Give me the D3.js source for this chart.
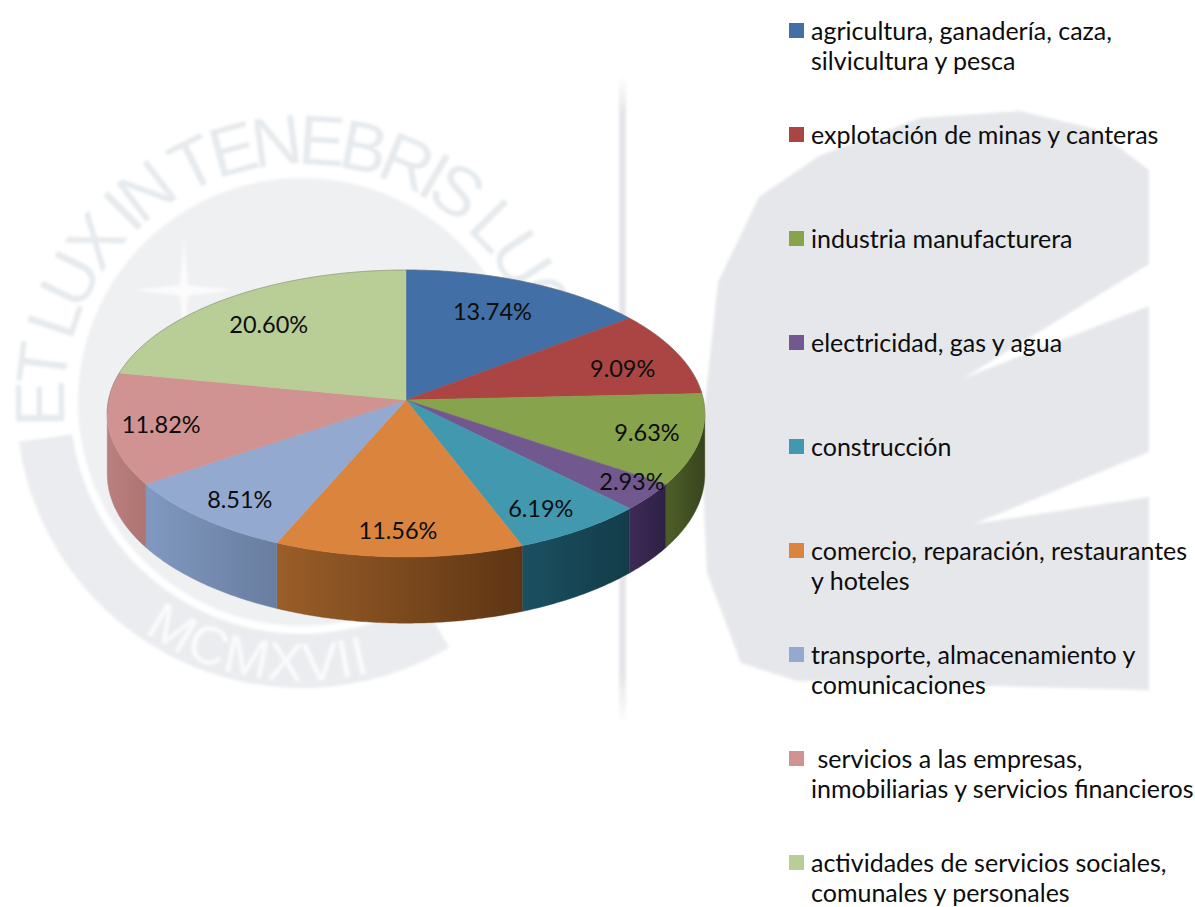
<!DOCTYPE html>
<html>
<head>
<meta charset="utf-8">
<script src="https://cdnjs.cloudflare.com/ajax/libs/d3/7.8.5/d3.min.js"></script>
<style>
html,body{margin:0;padding:0;background:#fff;overflow:hidden}
svg{display:block}
text{font-family:Lato,"Noto Sans",sans-serif;fill:#0d0d0d}
.legend text{white-space:pre}
</style>
</head>
<body>
<svg id="chart" width="1195" height="907"></svg>
<script>
// ---- data ----
const categories = [
  "agricultura, ganadería, caza,\nsilvicultura y pesca",
  "explotación de minas y canteras",
  "industria manufacturera",
  "electricidad, gas y agua",
  "construcción",
  "comercio, reparación, restaurantes\ny hoteles",
  "transporte, almacenamiento y\ncomunicaciones",
  " servicios a las empresas,\ninmobiliarias y servicios financieros",
  "actividades de servicios sociales,\ncomunales y personales"
];
const values = [13.74, 9.09, 9.63, 2.93, 6.19, 11.56, 8.51, 11.82, 20.60];

// ---- styles ----
const topColors = ["#416fa6","#aa4543","#87a34c","#71588f","#4198af","#db843d","#93a9cf","#d19392","#b9cd96"];
const wallLeft  = ["#000","#000","#4e6028","#3d2b57","#1b5061","#9a5e29","#8199c0","#b9807f","#000"];
const wallRight = ["#000","#000","#37441c","#2e2044","#133c49","#5e3513","#687d9f","#ae7472","#000"];
const labelNudge = [[-3,-2.5],[20,2],[31,4],[54,12],[12,17],[-3,20],[-22,16],[-32,3],[-8,-1]];

// ---- layout ----
const cx = 406, cy = 400, R = 297.5, squash = 142.2, persp = 0.094, depth = 60;
const labelRadius = 0.72;
const legendX = 789, legendTextX = 811, legendTop = 31, legendStep = 104, lineGap = 30.5;
const logo = {x:302, y:402};

const svg = d3.select("#chart");
const defs = svg.append("defs");
defs.append("filter").attr("id","soft").attr("x","-5%").attr("y","-5%").attr("width","110%").attr("height","110%")
  .append("feGaussianBlur").attr("stdDeviation",1.8);

// ---- faint watermark ----
const mark = svg.append("g").attr("filter","url(#soft)");
const deg = Math.PI/180;
const polar = (r,t)=>[logo.x + r*Math.sin(t*deg), logo.y - r*Math.cos(t*deg)];
const arcPath = (r,a,b)=>d3.line()(d3.range(0,61).map(i=>polar(r,a+(b-a)*i/60)));

// inner disc and lower ring of the logo
mark.append("circle").attr("cx",logo.x).attr("cy",logo.y).attr("r",224).attr("fill","#eff0f2");
mark.append("path").attr("transform",`translate(${logo.x},${logo.y})`)
  .attr("d",d3.arc()({innerRadius:232,outerRadius:286,startAngle:149*deg,endAngle:262*deg}))
  .attr("fill","#eaecef");

// star in the disc
const star = mark.append("g").attr("fill","#fbfbfc");
star.append("path").attr("d",d3.line()([[184,235],[188,285],[235,290],[188,296],[184,345],[180,296],[135,290],[180,285]]));

defs.append("path").attr("id","ringTop").attr("d",arcPath(238,-96,130));
defs.append("path").attr("id","ringBottom").attr("d",arcPath(279,262,118));
mark.append("text").attr("font-size",70).attr("style","font-family:'Liberation Sans',sans-serif;fill:#e6eaed;letter-spacing:-7.5px")
  .append("textPath").attr("href","#ringTop").text("ET LUX IN TENEBRIS LUCET");
mark.append("text").attr("font-size",54).attr("text-anchor","middle").attr("style","font-family:'Liberation Sans',sans-serif;fill:#fbfbfc;letter-spacing:1px")
  .append("textPath").attr("href","#ringBottom").attr("startOffset","50%").text("MCMXVII");

// vertical rule
const ruleGrad = defs.append("linearGradient").attr("id","ruleFade").attr("x1",0).attr("x2",0).attr("y1",0).attr("y2",1);
[[0,0],[0.06,1],[0.92,1],[1,0]].forEach(([o,a])=>ruleGrad.append("stop").attr("offset",o).attr("stop-color","#e4e5e8").attr("stop-opacity",a));
mark.append("rect").attr("x",619).attr("y",75).attr("width",7).attr("height",650).attr("fill","url(#ruleFade)");

// big shape on the right
mark.append("path").attr("fill","#e6e7ea").attr("d",d3.line().curve(d3.curveLinear)([
  [1020,111],[1095,129],[1149,170],[1149,264],[964,378],[1149,306],[1149,452],[974,524],[1149,497],[1149,690],
  [797,681],[741,663],[707,573],[701,439],[718,282],[759,197],[819,156],[920,118]
])+"Z");

// ---- pie ----
const pie = d3.pie().sort(null).value(d=>d)(values);

function project(theta, rho=1){
  const u = rho*Math.sin(theta), v = -rho*Math.cos(theta);
  const s = 1/(1 - persp*v);
  return {x: cx + R*u*s, y: cy + squash*v*s, s};
}
const line = d3.line();
const samples = (a,b)=>{
  const n = Math.max(2,Math.ceil(Math.abs(b-a)/0.01));
  return d3.range(n+1).map(i=>a+(b-a)*i/n);
};
const wallStart = Math.acos(-persp), wallEnd = 2*Math.PI - wallStart;

// side walls
const walls = svg.append("g");
pie.forEach((d,i)=>{
  const a = Math.max(d.startAngle,wallStart), b = Math.min(d.endAngle,wallEnd);
  if (b <= a) return;
  const ts = samples(a,b);
  const upper = ts.map(t=>project(t));
  const pts = upper.map(p=>[p.x,p.y]).concat(upper.slice().reverse().map(p=>[p.x,p.y+depth*p.s]));
  const xs = pts.map(p=>p[0]);
  const g = defs.append("linearGradient").attr("id","wall"+i).attr("gradientUnits","userSpaceOnUse")
    .attr("x1",d3.min(xs)).attr("x2",d3.max(xs)).attr("y1",0).attr("y2",0);
  g.append("stop").attr("offset",0).attr("stop-color",wallLeft[i]);
  g.append("stop").attr("offset",1).attr("stop-color",wallRight[i]);
  walls.append("path").attr("d",line(pts)+"Z").attr("fill",`url(#wall${i})`).attr("stroke",`url(#wall${i})`).attr("stroke-width",0.4);
});

// top face
const tops = svg.append("g");
pie.forEach((d,i)=>{
  const pts = [[cx,cy]].concat(samples(d.startAngle,d.endAngle).map(t=>{const p=project(t);return [p.x,p.y];}));
  tops.append("path").attr("d",line(pts)+"Z").attr("fill",topColors[i]).attr("stroke",topColors[i]).attr("stroke-width",0.5);
});
// thin rim on the back edge
const rim = samples(-wallStart,wallStart).map(t=>{const p=project(t);return [p.x,p.y];});
svg.append("path").attr("d",line(rim)).attr("fill","none").attr("stroke","#6f7468").attr("stroke-opacity",0.55).attr("stroke-width",0.8);

// value labels
svg.append("g").selectAll("text").data(pie).join("text")
  .attr("x",(d,i)=>project((d.startAngle+d.endAngle)/2,labelRadius).x+labelNudge[i][0])
  .attr("y",(d,i)=>project((d.startAngle+d.endAngle)/2,labelRadius).y+labelNudge[i][1])
  .attr("text-anchor","middle").attr("dominant-baseline","central")
  .attr("font-size",23.5).text(d=>d3.format(".2f")(d.value)+"%");

// ---- legend ----
const rows = svg.append("g").attr("class","legend").selectAll("g").data(categories).join("g")
  .attr("transform",(d,i)=>`translate(0,${legendTop+i*legendStep})`);
rows.append("rect").attr("x",legendX).attr("y",-8).attr("width",15).attr("height",15).attr("fill",(d,i)=>topColors[i]);
rows.each(function(d){
  d3.select(this).selectAll("text").data(d.split("\n")).join("text")
    .attr("x",legendTextX).attr("y",(l,j)=>j*lineGap+8.5).attr("font-size",25).text(l=>l);
});
</script>
</body>
</html>
